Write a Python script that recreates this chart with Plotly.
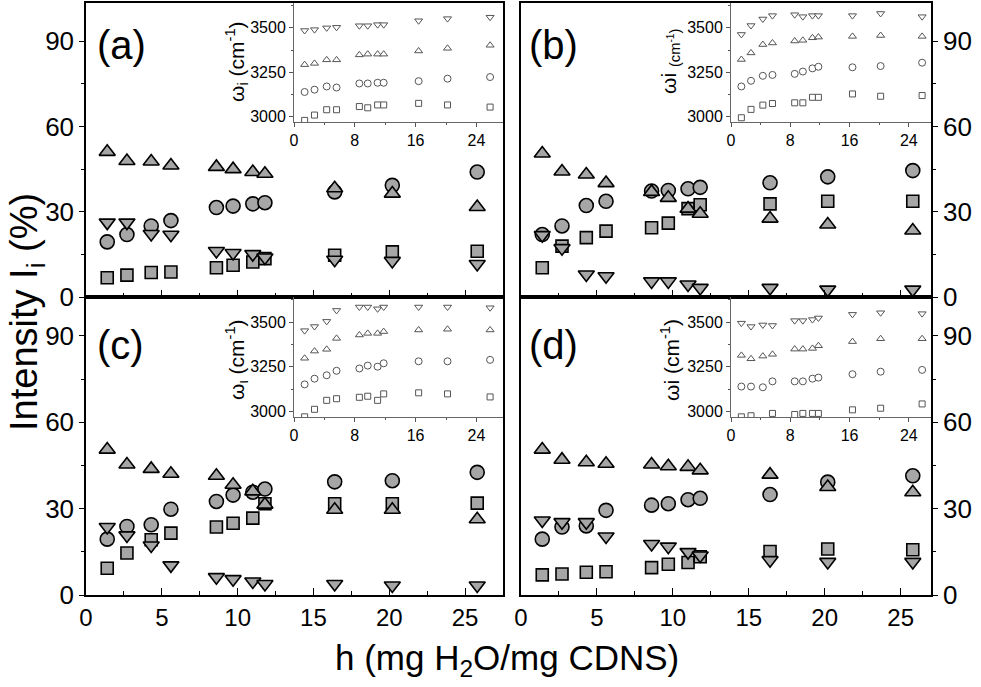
import plotly.graph_objects as go

# ---------------- data ----------------
h = [1.4, 2.7, 4.3, 5.6, 8.6, 9.7, 11.0, 11.8, 16.4, 20.2, 25.8]

# main panels: intensity I_i (%)
up_a   = [51.1, 47.9, 47.7, 46.3, 45.8, 45.0, 44.0, 43.4, 38.3, 36.4, 31.7]
circ_a = [19.4, 22.0, 25.0, 26.9, 31.5, 32.0, 32.8, 33.2, 37.0, 39.3, 44.0]
down_a = [26.2, 26.2, 22.2, 21.9, 16.2, 15.5, 15.1, 13.9, 13.1, 12.7, 11.6]
sq_a   = [6.8, 7.7, 8.6, 8.8, 10.3, 11.2, 12.3, 13.5, 14.7, 15.9, 16.1]

up_b   = [50.5, 44.2, 43.1, 40.1, 37.0, 34.9, 31.1, 29.3, 27.6, 25.5, 23.4]
circ_b = [22.0, 25.0, 32.2, 33.7, 37.3, 37.5, 38.1, 38.6, 40.2, 42.3, 44.5]
down_b = [21.8, 17.2, 7.9, 7.3, 5.5, 5.5, 4.4, 3.2, 3.2, 2.6, 2.6]
sq_b   = [10.3, 17.9, 20.9, 23.2, 24.4, 26.0, 31.1, 32.5, 32.8, 33.7, 33.7]

up_c   = [50.5, 45.3, 43.8, 42.1, 41.4, 38.3, 36.0, 31.4, 29.6, 29.6, 26.3]
circ_c = [19.4, 23.8, 24.4, 29.8, 32.5, 34.7, 35.7, 36.8, 39.3, 39.7, 42.6]
down_c = [23.6, 20.7, 17.2, 10.3, 6.2, 5.5, 4.7, 3.8, 3.8, 3.3, 3.3]
sq_c   = [9.3, 14.6, 19.2, 21.5, 23.6, 24.9, 26.7, 31.7, 31.7, 31.7, 31.9]

up_d   = [50.5, 47.0, 46.1, 45.6, 45.3, 44.7, 44.5, 43.3, 41.8, 37.5, 35.7]
circ_d = [19.4, 23.6, 24.0, 29.4, 31.2, 31.7, 33.1, 33.6, 34.9, 39.2, 41.4]
down_d = [25.9, 25.3, 25.3, 20.3, 17.7, 16.8, 14.9, 13.7, 12.1, 11.5, 11.5]
sq_d   = [7.0, 7.3, 7.9, 8.1, 9.5, 10.7, 11.3, 13.3, 15.1, 16.0, 15.7]

# insets: peak positions omega_i (cm^-1)
w_a_down = [3485, 3490, 3500, 3503, 3512, 3512, 3518, 3518, 3540, 3552, 3560]
w_a_up   = [3293, 3300, 3320, 3320, 3348, 3352, 3352, 3352, 3370, 3385, 3402]
w_a_circ = [3139, 3152, 3170, 3164, 3187, 3187, 3191, 3191, 3200, 3214, 3223]
w_a_sq   = [2979, 3009, 3039, 3039, 3057, 3050, 3066, 3066, 3075, 3066, 3054]

w_b_down = [3463, 3513, 3550, 3569, 3574, 3563, 3569, 3569, 3569, 3581, 3563]
w_b_up   = [3322, 3359, 3406, 3415, 3426, 3430, 3444, 3448, 3452, 3457, 3452]
w_b_circ = [3170, 3202, 3230, 3235, 3241, 3254, 3272, 3281, 3278, 3285, 3304]
w_b_sq   = [2994, 3041, 3065, 3074, 3078, 3078, 3109, 3109, 3128, 3115, 3119]

w_c_down = [3452, 3475, 3504, 3565, 3584, 3584, 3574, 3584, 3584, 3584, 3580]
w_c_up   = [3298, 3338, 3348, 3409, 3428, 3437, 3437, 3447, 3456, 3460, 3456]
w_c_circ = [3152, 3184, 3203, 3228, 3241, 3257, 3251, 3270, 3281, 3281, 3289]
w_c_sq   = [2971, 3013, 3063, 3072, 3080, 3086, 3063, 3099, 3105, 3099, 3082]

w_d_down = [3494, 3475, 3484, 3481, 3508, 3508, 3514, 3523, 3543, 3552, 3547]
w_d_up   = [3314, 3295, 3310, 3320, 3349, 3349, 3353, 3368, 3391, 3407, 3407]
w_d_circ = [3140, 3140, 3136, 3169, 3169, 3169, 3184, 3190, 3209, 3223, 3233]
w_d_sq   = [2971, 2977, 2946, 2990, 2984, 2990, 2990, 2990, 3010, 3019, 3043]

main_xticks = [0, 5, 10, 15, 20, 25]
main_yticks = [0, 30, 60, 90]
inset_xticks = [0, 8, 16, 24]
inset_yticks = [3000, 3250, 3500]

panel_labels = ["(a)", "(b)", "(c)", "(d)"]
inset_titles = ["ω<sub>i</sub> (cm<sup>-1</sup>)",
                "ωi <sub>(cm<sup>-1</sup>)</sub>",
                "ω<sub>ι</sub> (cm<sup>-1</sup>)",
                "ωi (cm<sup>-1</sup>)"]

# ---------------- layout geometry ----------------
W, H = 981, 687
def px(x):
    return x / W
def py(y):
    return 1 - y / H

col_x = [(86, 503), (521, 931)]
col_xmax = [27.5, 27.0]
row_y = [(3, 297), (297, 595)]
inset_x = [(294, 503), (731, 931)]
inset_y = [(3, 122), (297, 417)]

FONT = "Liberation Sans, Arial, sans-serif"
FILL = "#a6a6a6"

fig = go.Figure()

main_sets = [
    (up_a, circ_a, down_a, sq_a),
    (up_b, circ_b, down_b, sq_b),
    (up_c, circ_c, down_c, sq_c),
    (up_d, circ_d, down_d, sq_d),
]
inset_sets = [
    (w_a_up, w_a_circ, w_a_down, w_a_sq),
    (w_b_up, w_b_circ, w_b_down, w_b_sq),
    (w_c_up, w_c_circ, w_c_down, w_c_sq),
    (w_d_up, w_d_circ, w_d_down, w_d_sq),
]

sym_sizes = {"square": 12, "circle": 14, "triangle-up": 14, "triangle-down": 14}
ins_sizes = {"square": 6, "circle": 7, "triangle-up": 7, "triangle-down": 7}

layout = {}
annotations = []

for i in range(4):
    r, c = divmod(i, 2)
    up, circ, down, sq = main_sets[i]
    ax = "" if i == 0 else str(i + 1)
    for vals, sym in [(sq, "square"), (circ, "circle"), (up, "triangle-up"), (down, "triangle-down")]:
        fig.add_trace(go.Scatter(
            x=h, y=vals, mode="markers", xaxis="x" + ax, yaxis="y" + ax,
            marker=dict(symbol=sym, size=sym_sizes[sym], color=FILL,
                        line=dict(color="black", width=1.6)),
            showlegend=False, hoverinfo="skip"))
    x0, x1 = col_x[c]
    y0, y1 = row_y[r]
    layout["xaxis" + ax] = dict(
        domain=[px(x0), px(x1)], range=[0, col_xmax[c]], anchor="y" + ax,
        tickvals=main_xticks, ticks="inside", ticklen=7, tickwidth=1.2,
        tickcolor="black", automargin=False,
        minor=dict(dtick=2.5, tick0=0, ticks="inside", ticklen=4, tickcolor="black"),
        showticklabels=(r == 1), showline=True, linecolor="black", linewidth=1.5,
        mirror=True, showgrid=False, zeroline=False,
        tickfont=dict(family=FONT, size=24, color="black"))
    layout["yaxis" + ax] = dict(
        domain=[py(y1), py(y0)], range=[0, 103.5], anchor="x" + ax,
        side="left" if c == 0 else "right",
        tickvals=main_yticks, ticks="outside", ticklen=5, tickwidth=1.2,
        tickcolor="black", automargin=False,
        minor=dict(dtick=15, tick0=0, ticks="outside", ticklen=3, tickcolor="black"),
        showline=True, linecolor="black", linewidth=1.5, mirror=True,
        showgrid=False, zeroline=False,
        tickfont=dict(family=FONT, size=26, color="black"))

    # inset
    j = i + 5
    iax = str(j)
    wup, wcirc, wdown, wsq = inset_sets[i]
    for vals, sym in [(wsq, "square"), (wcirc, "circle"), (wup, "triangle-up"), (wdown, "triangle-down")]:
        fig.add_trace(go.Scatter(
            x=h, y=vals, mode="markers", xaxis="x" + iax, yaxis="y" + iax,
            marker=dict(symbol=sym, size=ins_sizes[sym], color="white",
                        line=dict(color="#555555", width=1)),
            showlegend=False, hoverinfo="skip"))
    ix0, ix1 = inset_x[c]
    iy0, iy1 = inset_y[r]
    layout["xaxis" + iax] = dict(
        domain=[px(ix0), px(ix1)], range=[0, col_xmax[c]], anchor="y" + iax,
        tickvals=inset_xticks, ticks="outside", ticklen=4, tickcolor="#555555",
        automargin=False,
        minor=dict(dtick=4, tick0=0, ticks="outside", ticklen=2, tickcolor="#555555"),
        showline=True, linecolor="#666666", linewidth=1, showgrid=False,
        zeroline=False, tickfont=dict(family=FONT, size=16, color="black"))
    layout["yaxis" + iax] = dict(
        domain=[py(iy1), py(iy0)], range=[2970, 3640], anchor="x" + iax,
        tickvals=inset_yticks, ticks="outside", ticklen=4, tickcolor="#555555",
        automargin=False,
        minor=dict(tickvals=[3125, 3375, 3625], ticks="outside", ticklen=2, tickcolor="#555555"),
        showline=True, linecolor="#666666", linewidth=1, showgrid=False,
        zeroline=False, tickfont=dict(family=FONT, size=16, color="black"))

    lx = [95, 527][c]
    ly = [45, 345][r]
    annotations.append(dict(text=panel_labels[i], x=px(lx), y=py(ly), xref="paper",
                            yref="paper", xanchor="left", yanchor="middle",
                            showarrow=False, font=dict(family=FONT, size=40, color="black")))
    tx = [236, 670][c]
    ty = [62, 360][r]
    annotations.append(dict(text=inset_titles[i], x=px(tx), y=py(ty), xref="paper",
                            yref="paper", xanchor="center", yanchor="middle",
                            textangle=-90, showarrow=False,
                            font=dict(family=FONT, size=21, color="black")))

annotations.append(dict(text="Intensity I<sub>i</sub> (%)", x=px(27), y=py(312),
                        xref="paper", yref="paper", xanchor="center", yanchor="middle",
                        textangle=-90, showarrow=False,
                        font=dict(family=FONT, size=38, color="black")))
annotations.append(dict(text="h (mg H<sub>2</sub>O/mg CDNS)", x=px(507), y=py(660),
                        xref="paper", yref="paper", xanchor="center", yanchor="middle",
                        showarrow=False,
                        font=dict(family=FONT, size=35, color="black")))

fig.update_layout(
    template="none",
    width=W, height=H, margin=dict(l=0, r=0, t=0, b=0, autoexpand=False),
    paper_bgcolor="white", plot_bgcolor="rgba(0,0,0,0)",
    showlegend=False, annotations=annotations, **layout)

fig.write_html("out.html", config={"displayModeBar": False},
               post_script="document.body.style.margin='0';document.body.style.padding='0';")
